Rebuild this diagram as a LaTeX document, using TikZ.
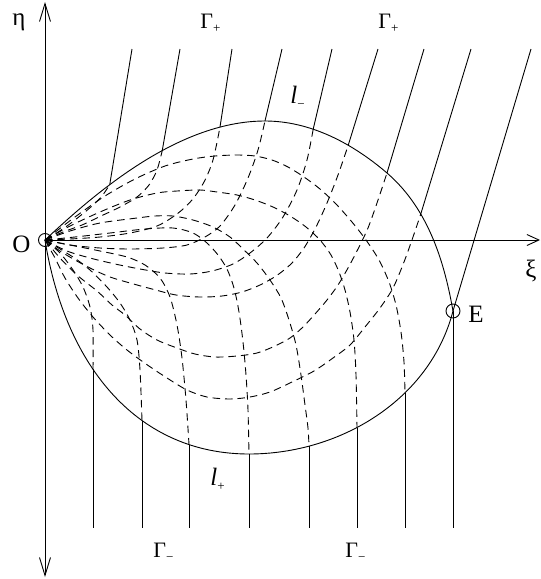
\documentclass[tikz,border=0pt]{standalone}
\usepackage{fontspec}
\setmainfont{Liberation Serif}
\usetikzlibrary{arrows.meta,intersections,calc}
\newcommand\mysub[1]{\raisebox{-0.22em}{\fontsize{13}{13}\selectfont #1}}
\begin{document}
\begin{tikzpicture}[x=1pt,y=-1pt,line width=0.9pt,
  solidline/.style={line width=0.9pt},
  charline/.style={line width=0.9pt,dash pattern=on 7.5pt off 5pt},
  lbl/.style={inner sep=0pt,anchor=base west,font=\fontsize{25}{25}\selectfont},
  glbl/.style={inner sep=0pt,anchor=base west,font=\fontsize{22}{22}\selectfont},
  vtip/.tip={Straight Barb[length=18pt,width=11pt]},
  htip/.tip={Straight Barb[length=12pt,width=11pt]}]
\useasboundingbox (0,0) rectangle (541,579);
% key points
\coordinate (O) at (45,240);
\coordinate (E) at (453,311);
\coordinate (bot) at (0,528);
\foreach \n/\x in {1/132,2/180,3/232,4/282,5/332,6/378,7/424,8/471,9/531}
  \coordinate (T\n) at (\x,49);
% axes
\draw[vtip-vtip] (45,577) -- (45,2);
\draw[-htip] (O) -- (540,240);
% boundary curves l- (upper) and l+ (lower)
\draw[solidline,name path=upper] (O) .. controls (89,199) and (175,121) .. (265,121)
  .. controls (310,121) and (352,143) .. (387,173)
  .. controls (430,210) and (445,266) .. (E);
\draw[solidline,name path=lower] (O) .. controls (66,370) and (140,454) .. (249,454)
  .. controls (340,454) and (430,400) .. (E);
% feet of the Gamma+ lines on l-
\foreach \n/\x/\y in {1/110/183,2/162/152,3/220/127,4/265/121,5/313/130,6/348/146,7/387/173,8/422/210} {
  \path[name path=gline] (T\n) -- ($(T\n)!1.25!(\x,\y)$);
  \path[name intersections={of=upper and gline,by={P\n}}];
}
% feet of the Gamma- lines on l+
\foreach \n/\x in {1/93,2/142,3/189,4/249,5/309,6/357,7/405} {
  \path[name path=vline] (\x,300) -- (\x,560);
  \path[name intersections={of=lower and vline,by={Q\n}}];
}
% Gamma+ lines
\foreach \n in {1,...,8} \draw[solidline] (T\n) -- (P\n);
\draw[solidline] (T9) -- (E);
% Gamma- lines
\foreach \n in {1,...,7} \draw[solidline] (Q\n) -- (Q\n |- bot);
\draw[solidline] (E) -- (E |- bot);
% family A (O to l-, via below)
\draw[charline] plot[smooth] coordinates {(45,240) (55,234) (67,226) (80,216) (92,206) (102,196) (P1)};
\draw[charline] plot[smooth] coordinates {(45,240) (63,232) (82,225) (101,216) (120,207) (137,197) (149,185) (157,170) (P2)};
\draw[charline] plot[smooth] coordinates {(45,240) (70,239) (100,237) (130,233) (157,226) (177,214) (192,200) (204,182) (213,160) (P3)};
\draw[charline] plot[smooth] coordinates {(45,240) (70,245) (100,248) (130,249) (163,248) (187,245) (205,237) (220,226) (235,205) (248,178) (258,150) (P4)};
\draw[charline] plot[smooth] coordinates {(45,240) (67,251) (90,258) (115,264) (140,269) (165,273) (190,274) (212,271) (233,264) (250,253) (267,238) (283,217) (297,190) (307,160) (P5)};
\draw[charline] plot[smooth] coordinates {(45,240) (60,251) (75,260) (92,269) (110,277) (130,283) (152,289) (176,295) (200,297) (222,296) (242,292) (260,285) (276,276) (291,264) (304,248) (316,227) (327,203) (338,175) (P6)};
\draw[charline] plot[smooth] coordinates {(45,240) (60,258) (77,275) (97,291) (112,305) (125,315) (140,329) (157,340) (177,348) (195,354) (215,357) (237,356) (257,353) (275,346) (290,338) (303,327) (315,314) (327,300) (338,285) (348,268) (358,249) (368,228) (377,203) (P7)};
\draw[charline] plot[smooth] coordinates {(45,240) (55,258) (65,278) (78,298) (93,317) (110,335) (127,350) (146,364) (167,378) (187,390) (207,397) (230,399) (250,397) (270,392) (292,382) (314,371) (333,358) (350,345) (365,327) (380,308) (393,288) (404,262) (413,237) (P8)};
% family B (O to l+, via above)
\draw[charline] plot[smooth] coordinates {(45,240) (60,253) (73,270) (83,287) (90,307) (93,330) (Q1)};
\draw[charline] plot[smooth] coordinates {(45,240) (73,257) (90,270) (107,287) (120,303) (130,320) (137,340) (140,370) (Q2)};
\draw[charline] plot[smooth] coordinates {(45,240) (75,246) (100,251) (127,257) (145,265) (160,278) (170,297) (177,325) (182,358) (186,400) (Q3)};
\draw[charline] plot[smooth] coordinates {(45,240) (75,237) (110,233) (145,229) (173,228) (193,233) (207,243) (218,255) (227,269) (234,288) (239,312) (243,342) (246,375) (248,410) (Q4)};
\draw[charline] plot[smooth] coordinates {(45,240) (70,231) (100,223) (137,218) (155,216) (173,216) (193,220) (213,227) (230,237) (243,249) (257,263) (270,280) (281,298) (289,320) (296,345) (301,375) (305,405) (308,428) (Q5)};
\draw[charline] plot[smooth] coordinates {(45,240) (70,226) (100,212) (130,200) (157,193) (177,191) (200,190) (217,192) (237,195) (255,200) (273,207) (290,216) (306,227) (320,240) (331,255) (339,272) (345,290) (350,312) (354,340) (356,375) (Q6)};
\draw[charline] plot[smooth] coordinates {(45,240) (75,217) (105,196) (135,179) (165,166) (193,159) (215,156) (237,155) (255,156) (272,160) (288,167) (304,177) (320,189) (336,204) (352,222) (366,240) (379,260) (389,282) (396,305) (401,332) (404,362) (Q7)};
% special points
\draw[solidline] (O) circle[radius=6.5pt];
\draw[solidline] (E) circle[radius=7pt];
% labels
\node[lbl] (eta) at (12,25) {η};
\node[lbl] (xi) at (525,277) {ξ};
\node[lbl] (lblO) at (12,252) {O};
\node[lbl] (lblE) at (468,322) {E};
\node[lbl] (lminus) at (290,103) {\textit{l}\mysub{−}};
\node[lbl] (lplus) at (210,485) {\textit{l}\mysub{+}};
\node[glbl] (gp1) at (200,28) {Γ\mysub{+}};
\node[glbl] (gp2) at (378,28) {Γ\mysub{+}};
\node[glbl] (gm1) at (153,557) {Γ\mysub{−}};
\node[glbl] (gm2) at (345,557) {Γ\mysub{−}};
\end{tikzpicture}
\end{document}
